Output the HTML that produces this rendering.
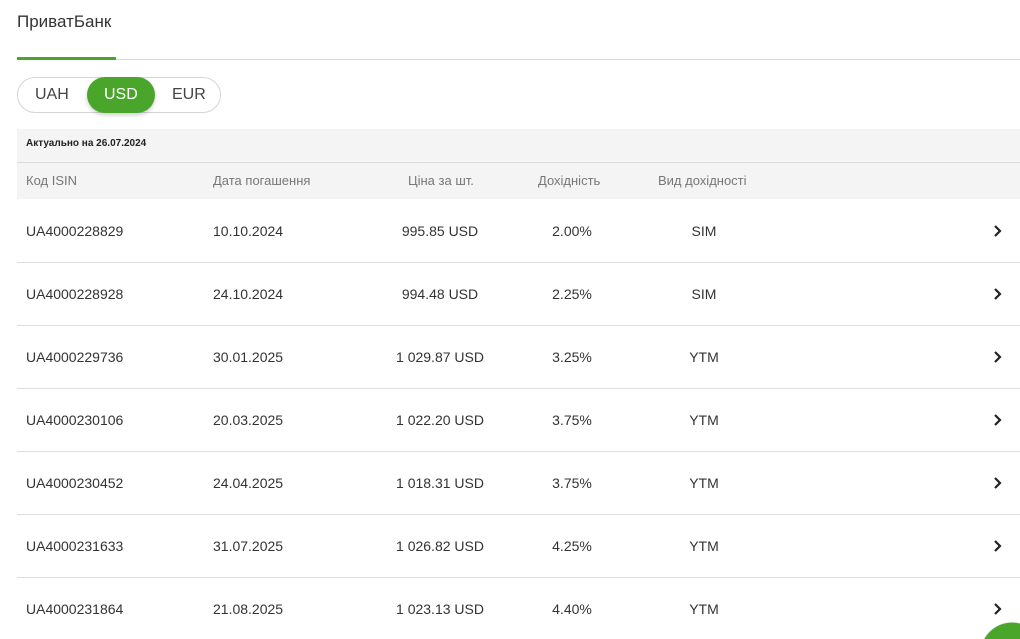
<!DOCTYPE html>
<html style="width:1020px;height:639px;overflow:hidden"><head><meta charset="utf-8"><style>
body{margin:0;width:1020px;height:639px;overflow:hidden;background:#fff;font-family:"Liberation Sans","DejaVu Sans",sans-serif;color:#333;position:relative}
.a{position:absolute;white-space:nowrap}
.title{left:17px;top:12px;font-size:17px;color:#333}
.uline{left:17px;top:57px;width:99px;height:3px;background:#4aa52b}
.gline{left:17px;top:59px;width:1003px;height:1px;background:#d8d8d8}
.tog{left:17px;top:77px;width:202px;height:34px;border:1px solid #d5d5d5;border-radius:18px}
.pill{left:87px;top:77px;width:68px;height:36px;border-radius:18px;background:#4aa52b;box-shadow:0 2px 4px rgba(0,0,0,.2)}
.tt{font-size:16px;top:86px}
.panel{left:17px;top:129px;width:1003px;height:70px;background:#f4f4f4}
.pdiv{left:17px;top:162px;width:1003px;height:1px;background:#dcdcdc}
.hd{font-size:13px;color:#777;top:173px}
.row{font-size:14px;color:#333}
.sep{left:17px;width:1003px;height:1px;background:#ddd}
</style></head><body>
<div class="a title">ПриватБанк</div>
<div class="a gline"></div><div class="a uline"></div>
<div class="a tog"></div><div class="a pill"></div>
<div class="a tt" style="left:35px;color:#444">UAH</div>
<div class="a tt" style="left:104px;color:#fff">USD</div>
<div class="a tt" style="left:172px;color:#444">EUR</div>
<div class="a panel"></div><div class="a pdiv"></div>
<div class="a" style="left:26px;top:138px;font-size:10px;font-weight:bold;color:#222">Актуально на 26.07.2024</div>
<div class="a hd" style="left:26px">Код ISIN</div>
<div class="a hd" style="left:213px">Дата погашення</div>
<div class="a hd" style="left:408px">Ціна за шт.</div>
<div class="a hd" style="left:538px">Дохідність</div>
<div class="a hd" style="left:658px">Вид дохідності</div>
<div id="rows"></div>
<div class="a" style="left:980px;top:622px;width:40px;height:17px;background:radial-gradient(circle 32px at 32px 32px,#4aa52b 31px,rgba(255,255,255,0) 32px)"></div>
<script>
var d=[["UA4000228829","10.10.2024","995.85 USD","2.00%","SIM"],["UA4000228928","24.10.2024","994.48 USD","2.25%","SIM"],["UA4000229736","30.01.2025","1 029.87 USD","3.25%","YTM"],["UA4000230106","20.03.2025","1 022.20 USD","3.75%","YTM"],["UA4000230452","24.04.2025","1 018.31 USD","3.75%","YTM"],["UA4000231633","31.07.2025","1 026.82 USD","4.25%","YTM"],["UA4000231864","21.08.2025","1 023.13 USD","4.40%","YTM"]];
var h="";d.forEach(function(r,i){var y=223+i*63;
h+='<div class="a row" style="left:26px;top:'+y+'px">'+r[0]+'</div>';
h+='<div class="a row" style="left:213px;top:'+y+'px">'+r[1]+'</div>';
h+='<div class="a row" style="left:340px;width:200px;text-align:center;top:'+y+'px">'+r[2]+'</div>';
h+='<div class="a row" style="left:522px;width:100px;text-align:center;top:'+y+'px">'+r[3]+'</div>';
h+='<div class="a row" style="left:654px;width:100px;text-align:center;top:'+y+'px">'+r[4]+'</div>';
h+='<svg class="a" style="left:993px;top:'+(y+1)+'px" width="10" height="14"><path d="M2 2 L7 7 L2 12" fill="none" stroke="#222" stroke-width="2.2"/></svg>';
if(i<6)h+='<div class="a sep" style="top:'+(262+i*63)+'px"></div>';});
document.getElementById("rows").innerHTML=h;
</script>
</body></html>
